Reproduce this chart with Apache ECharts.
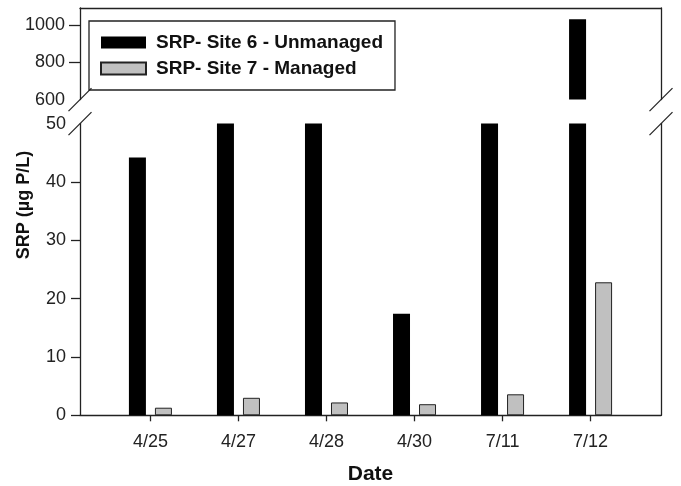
<!DOCTYPE html>
<html>
<head>
<meta charset="utf-8">
<script src="https://cdn.jsdelivr.net/npm/echarts@6/dist/echarts.min.js"></script>
<style>html,body{margin:0;padding:0;background:#fff;}#c{width:681px;height:486px;}</style>
</head>
<body>
<div id="c"></div>
<script>
// ---- data ----
const categories = ['4/25', '4/27', '4/28', '4/30', '7/11', '7/12'];
// Site 6 values above 50 (4/27, 4/28, 7/11) run off the lower scale and stay below 600
const site6 = [44.2, 120, 95, 17.4, 150, 1030];
const site7 = [1.3, 3.0, 2.2, 1.9, 3.6, 22.8];
const lowerTickValues = [0, 10, 20, 30, 40];
const lowerLabelValues = [0, 10, 20, 30, 40, 50];
const upperTickValues = [800, 1000];
const upperLabelValues = [600, 800, 1000];
const name6 = 'SRP- Site 6 - Unmanaged';
const name7 = 'SRP- Site 7 - Managed';

// ---- layout ----
const L = 80, R = 20, W = 681;
const upTop = 8, upBottomY = 99.6;
const lowTopY = 123.6, lowBottomY = 415.3;
const FONT = "'Liberation Sans', Arial, Helvetica, sans-serif";
const lineC = '#222', lineW = 1.3;

const chart = echarts.init(document.getElementById('c'), null, {renderer: 'canvas'});
const idx = categories.map((c, i) => i);
const pairs = arr => arr.map((v, i) => [i, v]);

const lineOnly = (gridIndex, position, min, max) => ({
  type: 'value', gridIndex, position, min, max,
  axisLine: {show: true, onZero: false, lineStyle: {color: lineC, width: lineW}},
  axisTick: {show: false}, axisLabel: {show: false}, splitLine: {show: false}
});

const slashes = [];
[L, W - R].forEach(x => {
  [upBottomY, lowTopY].forEach(y => {
    slashes.push({
      type: 'line', silent: true, z: 100,
      shape: {x1: x - 11.5, y1: y + 11.5, x2: x + 11.5, y2: y - 11.5},
      style: {stroke: lineC, lineWidth: lineW}
    });
  });
});

const barCommon = {type: 'bar', barWidth: 17, barGap: '53%', clip: true};

chart.setOption({
  animation: false,
  backgroundColor: '#fff',
  textStyle: {fontFamily: FONT},
  grid: [
    {left: L, right: R, top: lowTopY, bottom: 486 - lowBottomY, containLabel: false, outerBoundsMode: 'none'},
    {left: L, right: R, top: upTop, height: upBottomY - upTop, containLabel: false, outerBoundsMode: 'none'}
  ],
  xAxis: [
    {
      type: 'value', gridIndex: 0, position: 'bottom', min: -0.8, max: 5.8,
      axisLine: {show: true, onZero: false, lineStyle: {color: lineC, width: lineW}},
      axisTick: {show: true, inside: false, customValues: idx, length: 6, lineStyle: {color: lineC, width: lineW}},
      axisLabel: {customValues: idx, formatter: v => categories[Math.round(v)], fontSize: 18, color: '#222', margin: 18, fontFamily: FONT},
      splitLine: {show: false},
      name: 'Date', nameLocation: 'middle', nameGap: 48,
      nameTextStyle: {fontSize: 21, fontWeight: 'bold', color: '#111', fontFamily: FONT}
    },
    lineOnly(1, 'top', -0.8, 5.8)
  ],
  yAxis: [
    {
      type: 'value', gridIndex: 0, position: 'left', min: 0, max: 50,
      axisLine: {show: true, onZero: false, lineStyle: {color: lineC, width: lineW}},
      axisTick: {show: true, inside: false, customValues: lowerTickValues, length: 9, lineStyle: {color: lineC, width: lineW}},
      axisLabel: {customValues: lowerLabelValues, formatter: v => String(v), fontSize: 18, color: '#222', margin: 14, fontFamily: FONT},
      splitLine: {show: false}
    },
    lineOnly(0, 'right', 0, 50),
    {
      type: 'value', gridIndex: 1, position: 'left', min: 600, max: 1090,
      axisLine: {show: true, onZero: false, lineStyle: {color: lineC, width: lineW}},
      axisTick: {show: true, inside: false, customValues: upperTickValues, length: 11, lineStyle: {color: lineC, width: lineW}},
      axisLabel: {customValues: upperLabelValues, formatter: v => String(v), fontSize: 18, color: '#222', margin: 15, fontFamily: FONT},
      splitLine: {show: false}
    },
    lineOnly(1, 'right', 600, 1090)
  ],
  legend: {
    data: [name6, name7], orient: 'vertical', left: 89, top: 21,
    itemWidth: 45, itemHeight: 12, itemGap: 7, icon: 'rect',
    padding: [12, 12, 12, 11],
    borderColor: lineC, borderWidth: lineW, backgroundColor: '#fff',
    selectedMode: false, z: 50,
    textStyle: {fontSize: 19, fontWeight: 'bold', color: '#111', lineHeight: 19, padding: [0, 0, 0, 5], fontFamily: FONT}
  },
  graphic: [
    {
      type: 'text', x: 24, y: 205, rotation: Math.PI / 2, silent: true,
      style: {text: 'SRP (µg P/L)', font: 'bold 18px ' + FONT, fill: '#111', textAlign: 'center', textVerticalAlign: 'middle'}
    }
  ].concat(slashes),
  series: [
    Object.assign({}, barCommon, {name: name6, xAxisIndex: 0, yAxisIndex: 0, data: pairs(site6), itemStyle: {color: '#000'}}),
    Object.assign({}, barCommon, {name: name7, xAxisIndex: 0, yAxisIndex: 0, data: pairs(site7), itemStyle: {color: '#c0c0c0', borderColor: '#222', borderWidth: 1}}),
    Object.assign({}, barCommon, {name: name6, xAxisIndex: 1, yAxisIndex: 2, data: pairs(site6), itemStyle: {color: '#000'}}),
    Object.assign({}, barCommon, {name: name7, xAxisIndex: 1, yAxisIndex: 2, data: pairs(site7), itemStyle: {color: '#c0c0c0', borderColor: '#222', borderWidth: 1}})
  ]
});
</script>
</body>
</html>
